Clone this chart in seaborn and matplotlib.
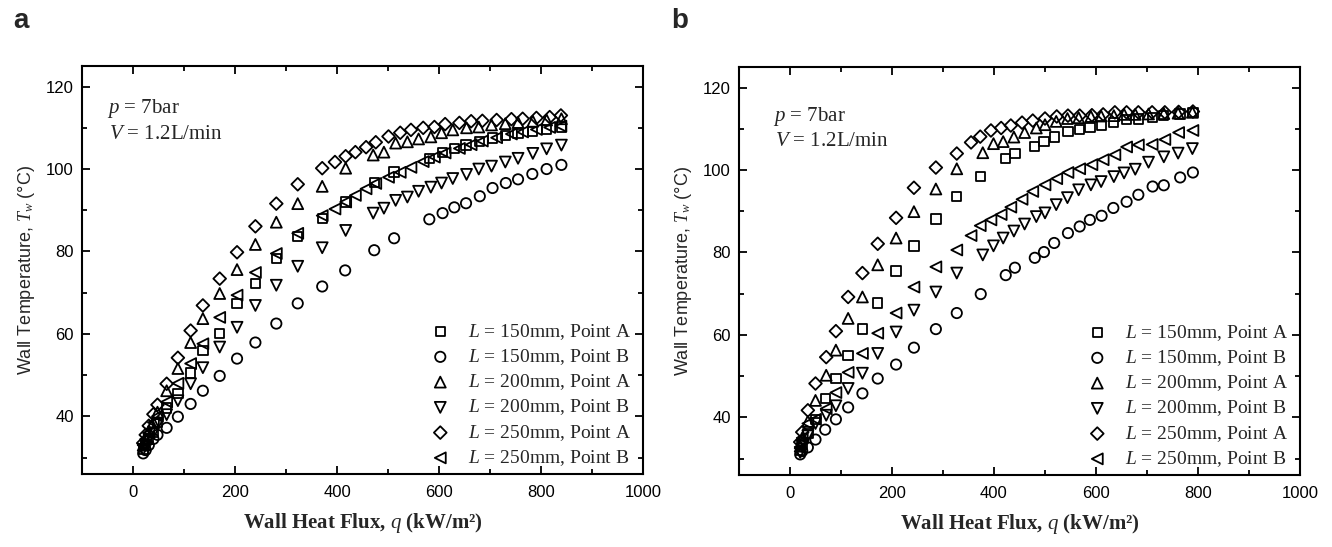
import matplotlib
matplotlib.use('Agg')
import matplotlib.pyplot as plt
from matplotlib.ticker import MultipleLocator
import seaborn as sns

# ---------------- panel a : wall heat flux (kW/m2) vs wall temperature (C) ----------------
a_x_150 = [20, 25, 31, 40, 48, 66, 88, 113, 137, 170, 204, 240, 281, 323, 371, 416, 473, 512,
           581, 607, 630, 653, 680, 705, 731, 755, 783, 811, 840]
a_t_150A = [32, 33, 34.5, 36, 38.5, 42, 45.6, 50.5, 56, 60.1, 67.4, 72.2, 78.3, 83.6, 88, 92, 96.8, 99.3,
            102.5, 104, 105, 105.8, 106.6, 107.5, 108.2, 108.7, 109.1, 109.6, 110.2]
a_t_150B = [31, 31.8, 33, 34.5, 35.5, 37.2, 39.9, 43.0, 46.2, 49.8, 54.0, 57.9, 62.5, 67.4, 71.5, 75.4, 80.3, 83.2,
            87.8, 89.3, 90.7, 91.7, 93.4, 95.4, 96.6, 97.5, 98.8, 100, 101]

a_x_200 = [20, 25, 31, 40, 48, 66, 88, 113, 137, 170, 204, 240, 281, 323, 371, 417, 471, 492, 515, 538,
           560, 584, 605, 627, 654, 678, 703, 730, 755, 784, 811, 840]
a_t_200A = [33, 34.5, 36.5, 38.5, 41, 46.2, 51.6, 57.9, 63.7, 69.8, 75.6, 81.7, 87.1, 91.6, 95.8, 100.2, 103.4, 104.1,
            106.3, 106.6, 107.3, 107.8, 108.8, 109.5, 110, 110.2, 110.7, 111.0, 111.3, 111.6, 111.9, 112.2]
a_t_200B = [32, 33, 34.5, 36, 38, 40.4, 43.8, 47.9, 51.8, 56.8, 61.6, 66.9, 71.8, 76.4, 80.9, 85.1, 89.3, 90.5,
            92.4, 93.2, 94.6, 95.6, 96.6, 97.7, 98.7, 100, 100.7, 101.7, 102.6, 103.8, 104.9, 105.8]

a_x_250 = [20, 25, 31, 40, 48, 66, 88, 113, 137, 170, 204, 240, 281, 323, 371, 396, 417, 436, 457, 476,
           501, 524, 545, 569, 591, 612, 640, 663, 685, 713, 742, 764, 791, 817, 839]
a_t_250A = [33.5, 35.5, 37.7, 40.5, 42.8, 47.9, 54.2, 60.8, 66.9, 73.4, 79.8, 86.1, 91.6, 96.3, 100.2, 101.7, 103.1,
            104.1, 105.3, 106.5, 107.9, 108.8, 109.5, 110, 110.2, 110.9, 111.2, 111.6, 111.7, 111.9, 112.1, 112.2,
            112.4, 112.6, 113]
a_t_250B = [33, 34.5, 36, 38.5, 40, 43.5, 48, 52.8, 57.6, 64, 69.4, 74.9, 79.5, 84.4, 88.7, 90.3, 92, 93.6, 95.2,
            96.5, 98, 99.2, 100.4, 101.8, 102.9, 103.9, 105, 105.9, 106.8, 107.6, 108.5, 109, 109.6, 110.1, 110.4]

# ---------------- panel b ----------------
b_x_150 = [20, 24, 35, 50, 69, 90, 114, 142, 172, 208, 243, 286, 327, 374, 423, 441, 480, 498, 518,
           545, 568, 588, 611, 634, 660, 683, 711, 733, 765, 790]
b_t_150A = [32, 33.5, 36, 39.5, 44.6, 49.4, 55, 61.4, 67.7, 75.5, 81.6, 88.1, 93.5, 98.4, 102.8, 104, 105.7, 107,
            108, 109.3, 109.8, 110.3, 110.8, 111.5, 112.2, 112.4, 112.8, 113.2, 113.6, 113.9]
b_t_150B = [31, 31.8, 32.7, 34.6, 37, 39.5, 42.4, 45.8, 49.4, 52.8, 56.9, 61.4, 65.3, 69.9, 74.5, 76.3, 78.7, 80.1,
            82.3, 84.7, 86.3, 87.9, 88.9, 90.8, 92.3, 94, 96, 96.3, 98.2, 99.4]

b_x_200 = [20, 24, 35, 50, 71, 90, 114, 142, 172, 208, 243, 286, 327, 378, 399, 418, 439, 460, 483, 500,
           522, 544, 566, 590, 610, 635, 655, 677, 703, 733, 761, 789]
b_t_200A = [33, 35, 39, 44.1, 50.2, 56.3, 64, 69.2, 77, 83.5, 89.9, 95.4, 100.3, 104.2, 106.4, 106.9, 108, 109.1,
            110.2, 111, 111.8, 112.5, 112.7, 113, 113.1, 113.2, 113.5, 113.5, 113.6, 113.7, 113.8, 114]
b_t_200B = [31.5, 33, 35.5, 38.5, 40.5, 42.8, 47, 50.7, 55.5, 60.7, 66, 70.4, 75, 79.4, 81.6, 83.5, 85.2, 86.9,
            88.7, 89.6, 91.6, 93.3, 95.2, 96.4, 97.2, 98.4, 99.3, 100.2, 101.9, 103.2, 104.1, 105.2]

b_x_250 = [20, 24, 35, 50, 71, 90, 114, 142, 172, 208, 243, 286, 327, 355, 373, 394, 414, 433, 455, 476,
           500, 523, 545, 568, 592, 614, 637, 660, 683, 710, 735, 762, 790]
b_t_250A = [34, 36.4, 41.7, 48.2, 54.6, 60.9, 69.2, 75, 82.1, 88.4, 95.7, 100.6, 104, 106.7, 108.1, 109.6, 110.2,
            110.8, 111.5, 112, 112.5, 113, 113.2, 113.2, 113.3, 113.5, 114, 114, 114, 114, 114, 114.1, 114.2]
b_t_250B = [32.5, 35, 38.5, 39.5, 42.1, 46, 50.9, 55.5, 60.4, 65.3, 71.6, 76.5, 80.6, 84.1, 86.5, 87.9, 89.2, 91,
            92.9, 94.8, 96.4, 97.9, 99.4, 100.3, 101.3, 102.5, 103.7, 105.6, 106.1, 106.2, 107.4, 109.1, 109.6]

labels = ['$L$ = 150mm, Point A', '$L$ = 150mm, Point B',
          '$L$ = 200mm, Point A', '$L$ = 200mm, Point B',
          '$L$ = 250mm, Point A', '$L$ = 250mm, Point B']
markers = ['s', 'o', '^', 'v', 'D', '<']
sizes = [45, 55, 62, 62, 42, 62]

sns.set_theme(style='ticks')
plt.rcParams['font.family'] = ['Liberation Sans', 'DejaVu Sans']
plt.rcParams['mathtext.fontset'] = 'custom'
plt.rcParams['mathtext.rm'] = 'Liberation Serif'
plt.rcParams['mathtext.it'] = 'Liberation Serif:italic'

fig = plt.figure(figsize=(13.32, 5.47), dpi=100)
ax_a = fig.add_axes([82 / 1332, 1 - 474 / 547, 561 / 1332, 408 / 547])
ax_b = fig.add_axes([739 / 1332, 1 - 475 / 547, 561 / 1332, 408 / 547])

panels = [
    (ax_a, [a_x_150, a_x_150, a_x_200, a_x_200, a_x_250, a_x_250],
     [a_t_150A, a_t_150B, a_t_200A, a_t_200B, a_t_250A, a_t_250B], (0.0446, 0.885, 0.821)),
    (ax_b, [b_x_150, b_x_150, b_x_200, b_x_200, b_x_250, b_x_250],
     [b_t_150A, b_t_150B, b_t_200A, b_t_200B, b_t_250A, b_t_250B], (0.061, 0.868, 0.806)),
]

for ax, xs, ts, (tx, ty1, ty2) in panels:
    for x, t, lab, m, s in zip(xs, ts, labels, markers, sizes):
        sns.scatterplot(x=x, y=t, marker=m, s=s, ax=ax, label=lab)
        coll = ax.collections[-1]
        coll.set_facecolor('none')
        coll.set_edgecolor('black')
        coll.set_linewidth(1.3)

    ax.set_xlim(-100, 1000)
    ax.set_ylim(26, 125)
    ax.set_xticks([0, 200, 400, 600, 800, 1000])
    ax.set_yticks([40, 60, 80, 100, 120])
    ax.xaxis.set_minor_locator(MultipleLocator(100))
    ax.yaxis.set_minor_locator(MultipleLocator(10))
    ax.tick_params(which='both', direction='in', top=True, right=True, width=1.3, colors='black')
    ax.tick_params(which='major', length=6, labelsize=12)
    ax.tick_params(which='minor', length=3.5)
    ax.tick_params(axis='x', pad=8)
    ax.tick_params(axis='y', pad=6)
    for sp in ax.spines.values():
        sp.set_linewidth(1.5)
        sp.set_color('black')

    ax.set_xlabel('Wall Heat Flux, $q$ (kW/m²)', fontfamily='Liberation Serif', fontweight='bold',
                  fontsize=15, labelpad=8)
    ax.set_ylabel('Wall Temperature, $T_w$ (°C)', fontsize=13, labelpad=6)

    ax.text(tx, ty1, '$p$ = 7bar', transform=ax.transAxes, fontfamily='Liberation Serif', fontsize=15,
            va='baseline')
    ax.text(tx + 0.003, ty2, '$V$ = 1.2L/min', transform=ax.transAxes, fontfamily='Liberation Serif',
            fontsize=15, va='baseline')

    ax.legend(loc='lower right', bbox_to_anchor=(0.978, 0.015), frameon=False, borderpad=0,
              prop={'family': 'Liberation Serif', 'size': 14}, labelspacing=0.28,
              handletextpad=0.4, handlelength=2.0, borderaxespad=0)

fig.text(13 / 1332, 1 - 28 / 547, 'a', fontsize=20, fontweight='bold', va='baseline')
fig.text(671 / 1332, 1 - 28 / 547, 'b', fontsize=20, fontweight='bold', va='baseline')

fig.savefig('out.png', dpi=100)
